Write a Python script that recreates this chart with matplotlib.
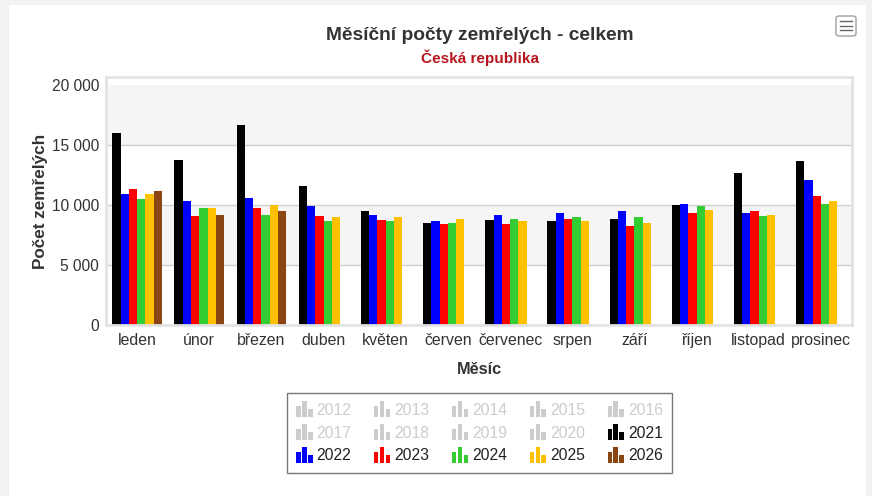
import matplotlib
matplotlib.use("Agg")
import matplotlib.pyplot as plt
import numpy as np
from matplotlib.patches import Rectangle, Patch, FancyBboxPatch
from matplotlib.legend_handler import HandlerBase
from matplotlib.lines import Line2D

plt.rcParams['font.family'] = ['Liberation Sans', 'DejaVu Sans']

months = ["leden", "únor", "březen", "duben", "květen", "červen",
          "červenec", "srpen", "září", "říjen", "listopad", "prosinec"]

y2021 = [16030, 13750, 16670, 11560, 9470, 8530, 8750, 8640, 8860, 10000, 12690, 13640]
y2022 = [10920, 10310, 10610, 9890, 9170, 8640, 9170, 9360, 9470, 10110, 9360, 12080]
y2023 = [11360, 9060, 9780, 9060, 8750, 8420, 8420, 8860, 8220, 9360, 9470, 10720]
y2024 = [10500, 9780, 9170, 8640, 8640, 8530, 8860, 8970, 8970, 9890, 9060, 10080]
y2025 = [10920, 9780, 10000, 8970, 8970, 8860, 8640, 8640, 8530, 9580, 9170, 10310]
y2026 = [11140, 9170, 9470]

visible_years = ["2021", "2022", "2023", "2024", "2025", "2026"]
visible_values = [y2021, y2022, y2023, y2024, y2025, y2026]
visible_colors = ["#000000", "#0000ff", "#ff0000", "#33cc33", "#ffc000", "#8b4513"]
hidden_years = ["2012", "2013", "2014", "2015", "2016", "2017", "2018", "2019", "2020"]

yticks = [0, 5000, 10000, 15000, 20000]
ytick_labels = ["0", "5 000", "10 000", "15 000", "20 000"]

W, H = 872, 496
fig = plt.figure(figsize=(W / 100, H / 100), dpi=100)
fig.patch.set_facecolor("#f2f2f2")
fig.patches.append(Rectangle((9 / W, 0), (866 - 9) / W, (H - 5) / H,
                             transform=fig.transFigure, facecolor="white",
                             edgecolor="none", zorder=-5))

ax = fig.add_axes([106 / W, (H - 325) / H, (852 - 106) / W, (325 - 77) / H])
ax.set_facecolor("white")

# plot bands
ax.axhspan(15000, 20000, color="#f5f5f5", zorder=0, lw=0)
ax.axhspan(5000, 10000, color="#f5f5f5", zorder=0, lw=0)
for yv in [5000, 10000, 15000]:
    ax.axhline(yv, color="#d0d0d0", lw=1, zorder=1)

n_series = len(visible_values)
group = 0.8
bw = group / n_series
for j, (vals, col) in enumerate(zip(visible_values, visible_colors)):
    x = np.arange(len(vals)) - group / 2 + (j + 0.5) * bw
    ax.bar(x, vals, width=bw, color=col, edgecolor="none", zorder=2)

ax.set_xlim(-0.5, len(months) - 0.5)
ax.set_ylim(0, 20667)
ax.set_xticks(np.arange(len(months)))
ax.set_xticklabels(months, fontsize=11.4, color="#333333")
ax.set_yticks(yticks)
ax.set_yticklabels(ytick_labels, fontsize=11.2, color="#333333")
ax.tick_params(axis="x", length=0, pad=6)
ax.tick_params(axis="y", length=0, pad=5)
for sp in ax.spines.values():
    sp.set_color("#e3e3e3")
    sp.set_linewidth(2)

ax.set_xlabel("Měsíc", fontsize=11.8, fontweight="bold", color="#333333", labelpad=10)
ax.set_ylabel("Počet zemřelých", fontsize=12.3, fontweight="bold", color="#333333", labelpad=3)

fig.text(480 / W, 1 - 36 / H, "Měsíční počty zemřelých - celkem", ha="center", va="center",
         fontsize=13.8, fontweight="bold", color="#333333")
fig.text(480 / W, 1 - 58 / H, "Česká republika", ha="center", va="center",
         fontsize=11, fontweight="bold", color="#b8161f")

# menu icon
fig.patches.append(FancyBboxPatch((836 / W, (H - 36) / H), 20 / W, 20 / H,
                                  boxstyle="round,pad=0,rounding_size=0.004",
                                  transform=fig.transFigure, facecolor="white",
                                  edgecolor="#a0a0a0", lw=1))
for yy in [21, 25.5, 30]:
    fig.lines.append(Line2D([(840) / W, (852) / W], [(H - yy) / H] * 2,
                            transform=fig.transFigure, color="#666666", lw=1))


class BarIconHandler(HandlerBase):
    def create_artists(self, legend, orig_handle, xdescent, ydescent, width, height, fontsize, trans):
        col = orig_handle.get_facecolor()
        arts = []
        bwid = width / 3.5
        fr = [0.68, 1.0, 0.5]
        full = 11.5
        base = -ydescent + (height - full) / 2
        for k in range(3):
            r = Rectangle((-xdescent + k * (width - bwid) / 2, base), bwid, full * fr[k],
                          facecolor=col, edgecolor="none", transform=trans)
            arts.append(r)
        return arts


entries = []
for yr in hidden_years:
    entries.append((Patch(facecolor="#cccccc"), yr, "#cccccc"))
for yr, col in zip(visible_years, visible_colors):
    entries.append((Patch(facecolor=col), yr, "#222222"))

ncol = 5
nrow = 3
order = [r * ncol + c for c in range(ncol) for r in range(nrow)]
handles = [entries[i][0] for i in order]
labels = [entries[i][1] for i in order]
tcolors = [entries[i][2] for i in order]

leg = fig.legend(handles, labels, ncol=ncol, loc="center",
                 bbox_to_anchor=(479.5 / W, 1 - 433 / H),
                 handler_map={Patch: BarIconHandler()},
                 fontsize=11.3, frameon=True, fancybox=False,
                 edgecolor="#555555", handlelength=1.05, handleheight=0.9,
                 handletextpad=0.25, columnspacing=1.43, labelspacing=0.5,
                 borderpad=0.6, borderaxespad=0)
leg.get_frame().set_linewidth(1)
for t, c in zip(leg.get_texts(), tcolors):
    t.set_color(c)

fig.savefig("out.png", dpi=100, facecolor=fig.get_facecolor())
